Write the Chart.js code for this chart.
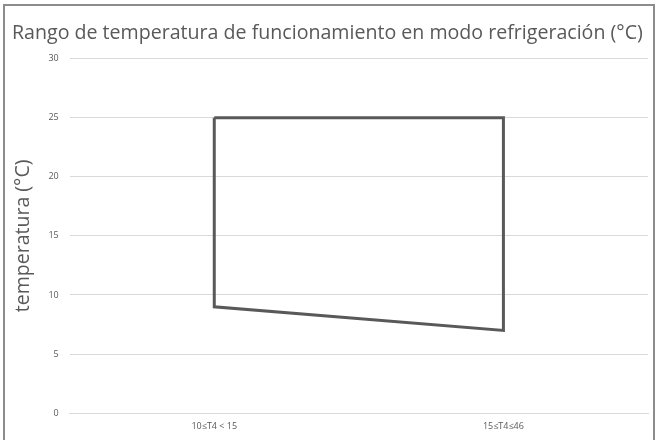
<!DOCTYPE html>
<html>
<head>
<meta charset="utf-8">
<script src="https://cdn.jsdelivr.net/npm/chart.js@4.4.1/dist/chart.umd.min.js"></script>
<style>
  body { margin: 0; background: #fff; }
  #wrap { position: relative; width: 657px; height: 440px; }
  #frame {
    position: absolute; left: 3px; top: 4px; width: 652px; height: 440px;
    border: 2px solid #8c8c8c; border-bottom: none; box-sizing: border-box;
    pointer-events: none;
  }
</style>
</head>
<body>
<div id="wrap">
  <canvas id="myChart" width="657" height="440"></canvas>
  <div id="frame"></div>
</div>
<script>
  // categorias del eje X
  const categories = ["10≤T4 < 15", "15≤T4≤46"];
  // recorrido del contorno (cerrado)
  const pathCats = ["10≤T4 < 15", "15≤T4≤46", "15≤T4≤46", "10≤T4 < 15", "10≤T4 < 15"];
  const pathTemps = [25, 25, 7, 9, 25];
  const yTicks = [0, 5, 10, 15, 20, 25, 30];

  const grey = "#595959";

  document.addEventListener("DOMContentLoaded", function () {
    const ctx = document.getElementById("myChart");

    new Chart(ctx, {
      type: "line",
      data: {
        labels: categories,
        datasets: [
          {
            label: "rango",
            data: pathCats.map((c, i) => ({ x: c, y: pathTemps[i] })),
            borderColor: grey,
            borderWidth: 3,
            pointRadius: 0,
            fill: false,
            tension: 0,
          },
        ],
      },
      options: {
        responsive: false,
        animation: false,
        layout: { padding: { left: 12, right: 9, top: 22, bottom: 0 } },
        plugins: {
          legend: { display: false },
          tooltip: { enabled: false },
          title: {
            display: true,
            text: "Rango de temperatura de funcionamiento en modo refrigeración (°C)",
            align: "start",
            color: grey,
            font: { family: "Open Sans", size: 19.6, weight: "normal" },
            padding: { top: 0, bottom: 13 },
          },
        },
        scales: {
          x: {
            type: "category",
            offset: true,
            grid: { display: false, drawTicks: false },
            border: { color: "#d9d9d9", width: 1 },
            ticks: {
              color: grey,
              font: { family: "Open Sans", size: 9 },
              padding: 8,
              maxRotation: 0,
            },
          },
          y: {
            min: 0,
            max: 30,
            afterBuildTicks: (axis) => { axis.ticks = yTicks.map(v => ({ value: v })); },
            grid: { color: "#d9d9d9", drawTicks: false },
            border: { display: false },
            ticks: {
              color: grey,
              font: { family: "Open Sans", size: 9 },
              padding: 11,
            },
            title: {
              display: true,
              text: "temperatura (°C)",
              color: grey,
              font: { family: "Open Sans", size: 19.5 },
              padding: { top: 0, bottom: 2 },
            },
          },
        },
      },
    });
  });
</script>
</body>
</html>
